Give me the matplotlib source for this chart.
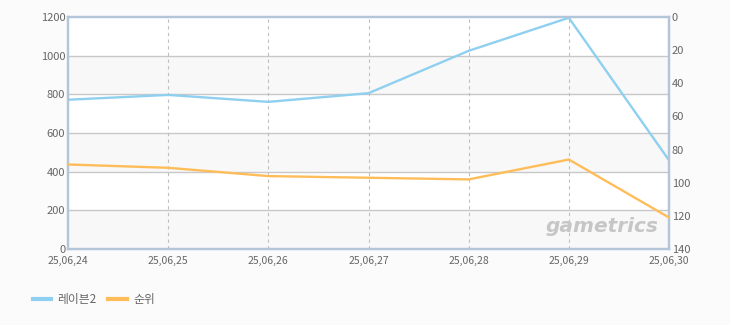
import matplotlib
matplotlib.use("Agg")
import matplotlib.pyplot as plt
from matplotlib.lines import Line2D

plt.rcParams['font.family'] = ['Noto Sans CJK KR', 'DejaVu Sans']

dates = ["25,06,24", "25,06,25", "25,06,26", "25,06,27", "25,06,28", "25,06,29", "25,06,30"]
raven2 = [772, 797, 761, 806, 1025, 1196, 459]
rank = [89, 91, 96, 97, 98, 86, 121]
left_ticks = [0, 200, 400, 600, 800, 1000, 1200]
right_ticks = [0, 20, 40, 60, 80, 100, 120, 140]
series_names = ["레이븐2", "순위"]

blue = "#8fd0f0"
orange = "#ffbd5a"
text_c = "#666666"

fig = plt.figure(figsize=(7.3, 3.25), dpi=100, facecolor="#fbfbfb")
ax = fig.add_axes([68/730, 1-249/325, (669-68)/730, (249-17)/325])
ax.set_facecolor("white")
x = list(range(len(dates)))

# alternating bands
for i in range(0, len(left_ticks)-1):
    if i % 2 == 0:
        ax.axhspan(left_ticks[i], left_ticks[i+1], color="#f8f8f8", zorder=0, lw=0)

ax.set_xlim(0, len(dates)-1)
ax.set_ylim(0, 1200)
ax.set_yticks(left_ticks)
ax.set_xticks(x)
ax.set_xticklabels(dates)
for yv in left_ticks[1:-1]:
    ax.axhline(yv, color="#c8c8c8", lw=1.0, zorder=1)
for xv in x[1:-1]:
    ax.axvline(xv, color="#c0c0c0", lw=0.8, ls=(0, (3, 3)), zorder=1)

ax.plot(x, raven2, color=blue, lw=1.7, zorder=3, solid_joinstyle='miter')

ax2 = ax.twinx()
ax2.set_ylim(140, 0)
ax2.set_yticks(right_ticks)
ax2.plot(x, rank, color=orange, lw=1.7, zorder=3, solid_joinstyle='miter')

for a in (ax, ax2):
    for s in a.spines.values():
        s.set_color("#b3c6d9")
        s.set_linewidth(1.6)
    a.tick_params(length=0, labelsize=8, labelcolor=text_c, pad=2)
ax.tick_params(axis='x', pad=5, labelsize=7.5)

ax.text(0.983, 0.095, "gametrics", transform=ax.transAxes, ha="right", va="center",
        fontsize=14.5, fontstyle="italic", fontweight="bold", color="#c6c6c6",
        family="DejaVu Sans", zorder=2)

handles = [Line2D([0], [0], color=blue, lw=3), Line2D([0], [0], color=orange, lw=3)]
fig.legend(handles, series_names, loc="center left", bbox_to_anchor=(0.03, 1-300/325),
           ncol=2, frameon=False, fontsize=8.5, labelcolor=text_c, handlelength=1.6,
           handletextpad=0.5, columnspacing=1.0)

fig.savefig("out.png", dpi=100, facecolor=fig.get_facecolor())
